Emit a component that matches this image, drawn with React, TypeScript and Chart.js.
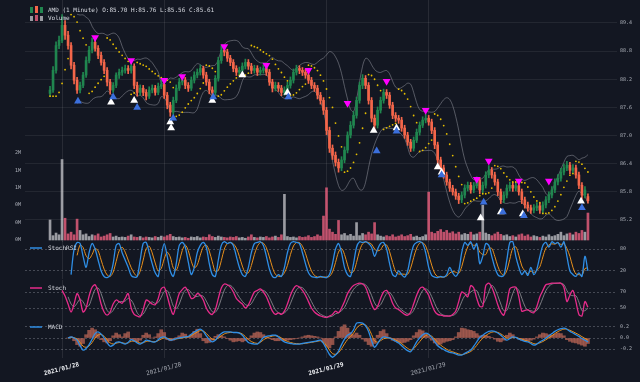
import React, { useEffect, useRef } from "react";
import { Chart, registerables } from "chart.js";

Chart.register(...registerables);

// ---------------- data ----------------
const SYMBOL = "AMD";
const INTERVAL = "1 Minute";

const OPEN = [87.90,87.97,88.39,88.92,89.03,89.35,89.14,88.92,88.50,88.18,
87.97,88.07,88.29,88.60,88.82,88.99,88.86,88.71,88.56,88.39,
88.14,87.97,88.07,88.29,88.35,88.39,88.43,88.39,88.48,88.07,
87.92,88.01,87.92,87.84,87.97,88.01,87.92,88.05,88.09,87.86,
87.65,87.50,87.75,88.01,88.14,88.18,88.07,88.01,88.18,88.29,
88.35,88.43,88.29,88.14,87.97,87.92,88.22,88.60,88.82,88.78,
88.65,88.56,88.43,88.35,88.39,88.48,88.56,88.48,88.39,88.43,
88.35,88.39,88.43,88.35,88.14,88.01,88.07,88.01,87.92,87.97,
88.07,88.18,88.35,88.43,88.39,88.35,88.29,88.18,88.07,88.01,
87.86,87.75,87.54,87.11,86.73,86.58,86.43,86.31,86.48,86.69,
87.01,87.22,87.43,87.75,88.07,88.22,88.07,87.75,87.37,87.22,
87.54,87.75,87.92,87.86,87.65,87.43,87.37,87.33,87.16,87.01,
86.86,86.73,86.90,87.07,87.22,87.33,87.37,87.29,87.11,86.80,
86.48,86.31,86.16,86.01,85.88,85.80,85.71,85.63,85.73,85.88,
85.94,85.84,85.93,86.05,85.84,85.94,86.16,86.26,86.16,86.01,
85.80,85.63,85.73,85.88,85.94,85.88,85.93,85.80,85.63,85.52,
85.46,85.41,85.46,85.50,85.41,85.52,85.63,85.73,85.84,86.01,
86.09,86.22,86.31,86.37,86.26,86.31,86.16,85.94,85.73,85.70];

const HIGH = [88.05,88.47,89.00,89.12,89.58,89.45,89.22,88.98,88.56,88.24,
88.14,88.35,88.68,88.90,89.08,89.06,88.92,88.78,88.62,88.45,
88.20,88.13,88.34,88.42,88.46,88.50,88.49,88.56,88.53,88.14,
88.08,88.07,87.98,88.04,88.08,88.07,88.12,88.18,88.14,87.92,
87.71,87.82,88.08,88.22,88.27,88.24,88.13,88.25,88.36,88.42,
88.50,88.48,88.35,88.20,88.04,88.28,88.67,88.92,88.88,88.84,
88.71,88.62,88.49,88.46,88.55,88.63,88.62,88.54,88.50,88.49,
88.46,88.51,88.49,88.41,88.20,88.14,88.13,88.07,88.04,88.14,
88.25,88.42,88.50,88.49,88.45,88.41,88.35,88.24,88.13,88.07,
87.92,87.81,87.60,87.18,86.80,86.65,86.50,86.55,86.76,87.08,
87.30,87.51,87.82,88.14,88.30,88.28,88.13,87.81,87.44,87.61,
87.82,87.99,87.98,87.92,87.71,87.49,87.43,87.39,87.22,87.07,
86.92,86.97,87.14,87.29,87.40,87.46,87.43,87.35,87.17,86.86,
86.54,86.37,86.22,86.07,85.94,85.86,85.77,85.80,85.95,86.01,
86.00,86.00,86.12,86.10,86.01,86.23,86.36,86.32,86.22,86.07,
85.86,85.80,85.95,86.01,86.00,86.00,85.99,85.86,85.69,85.58,
85.52,85.53,85.57,85.56,85.59,85.70,85.80,85.91,86.08,86.17,
86.30,86.39,86.45,86.43,86.38,86.37,86.22,86.00,85.91,85.76];

const LOW = [87.84,87.92,88.33,88.85,88.98,89.05,88.84,88.42,88.10,87.90,
87.91,88.02,88.24,88.55,88.76,88.80,88.64,88.50,88.32,88.06,
87.88,87.92,88.02,88.22,88.28,88.33,88.32,88.33,88.00,87.84,
87.86,87.85,87.76,87.79,87.91,87.86,87.87,88.00,87.79,87.57,
87.41,87.45,87.70,87.96,88.08,88.00,87.94,87.96,88.12,88.23,
88.29,88.22,88.07,87.89,87.84,87.87,88.16,88.54,88.70,88.58,
88.49,88.36,88.28,88.29,88.33,88.42,88.41,88.32,88.33,88.28,
88.29,88.33,88.28,88.07,87.93,87.95,87.94,87.85,87.86,87.91,
88.01,88.12,88.29,88.32,88.28,88.22,88.11,88.00,87.94,87.78,
87.67,87.45,87.02,86.64,86.49,86.35,86.22,86.25,86.42,86.63,
86.95,87.16,87.37,87.69,88.00,88.00,87.67,87.29,87.13,87.16,
87.48,87.69,87.79,87.58,87.36,87.30,87.26,87.09,86.94,86.79,
86.66,86.67,86.85,87.01,87.17,87.27,87.22,87.04,86.72,86.40,
86.23,86.09,85.94,85.81,85.73,85.64,85.55,85.57,85.67,85.82,
85.77,85.78,85.88,85.76,85.78,85.88,86.10,86.09,85.94,85.72,
85.55,85.57,85.67,85.82,85.81,85.82,85.73,85.55,85.45,85.39,
85.34,85.35,85.40,85.34,85.35,85.46,85.57,85.67,85.78,85.95,
86.03,86.16,86.25,86.19,86.20,86.09,85.87,85.65,85.67,85.56];

const CLOSE = [87.97,88.39,88.92,89.03,89.35,89.14,88.92,88.50,88.18,87.97,
88.07,88.29,88.60,88.82,88.99,88.86,88.71,88.56,88.39,88.14,
87.97,88.07,88.29,88.35,88.39,88.43,88.39,88.48,88.07,87.92,
88.01,87.92,87.84,87.97,88.01,87.92,88.05,88.09,87.86,87.65,
87.50,87.75,88.01,88.14,88.18,88.07,88.01,88.18,88.29,88.35,
88.43,88.29,88.14,87.97,87.92,88.22,88.60,88.82,88.78,88.65,
88.56,88.43,88.35,88.39,88.48,88.56,88.48,88.39,88.43,88.35,
88.39,88.43,88.35,88.14,88.01,88.07,88.01,87.92,87.97,88.07,
88.18,88.35,88.43,88.39,88.35,88.29,88.18,88.07,88.01,87.86,
87.75,87.54,87.11,86.73,86.58,86.43,86.31,86.48,86.69,87.01,
87.22,87.43,87.75,88.07,88.22,88.07,87.75,87.37,87.22,87.54,
87.75,87.92,87.86,87.65,87.43,87.37,87.33,87.16,87.01,86.86,
86.73,86.90,87.07,87.22,87.33,87.37,87.29,87.11,86.80,86.48,
86.31,86.16,86.01,85.88,85.80,85.71,85.63,85.73,85.88,85.94,
85.84,85.93,86.05,85.84,85.94,86.16,86.26,86.16,86.01,85.80,
85.63,85.73,85.88,85.94,85.88,85.93,85.80,85.63,85.52,85.46,
85.41,85.46,85.50,85.41,85.52,85.63,85.73,85.84,86.01,86.09,
86.22,86.31,86.37,86.26,86.31,86.16,85.94,85.73,85.84,85.61];

// volume in millions of shares
const VOLUME_M = [0.46,0.10,0.16,0.12,1.85,0.50,0.14,0.18,0.12,0.48,
0.22,0.12,0.14,0.08,0.12,0.10,0.14,0.07,0.09,0.12,
0.15,0.07,0.09,0.06,0.07,0.06,0.09,0.12,0.07,0.06,
0.08,0.05,0.07,0.06,0.05,0.08,0.06,0.09,0.07,0.10,
0.13,0.08,0.06,0.07,0.05,0.06,0.04,0.07,0.06,0.08,
0.05,0.07,0.06,0.12,0.08,0.06,0.09,0.07,0.06,0.05,
0.07,0.06,0.08,0.05,0.06,0.04,0.07,0.12,0.06,0.05,
0.07,0.06,0.08,0.05,0.07,0.09,0.06,0.12,1.05,0.08,
0.06,0.07,0.05,0.08,0.06,0.07,0.10,0.06,0.08,0.12,
0.09,0.55,1.20,0.25,0.18,0.13,0.45,0.12,0.15,0.10,
0.13,0.09,0.40,0.10,0.15,0.12,0.18,0.14,0.40,0.12,
0.09,0.07,0.10,0.08,0.12,0.07,0.09,0.12,0.08,0.10,
0.13,0.07,0.09,0.06,0.08,0.12,1.10,0.18,0.15,0.20,
0.24,0.18,0.22,0.16,0.19,0.14,0.18,0.12,0.15,0.13,
0.18,0.12,0.14,0.18,0.80,0.16,0.13,0.10,0.14,0.18,
0.13,0.10,0.12,0.08,0.10,0.07,0.12,0.14,0.09,0.12,
0.07,0.10,0.08,0.06,0.09,0.07,0.12,0.08,0.10,0.13,
0.18,0.10,0.14,0.16,0.12,0.18,0.15,0.22,0.18,0.62];

// signal markers: candle index and price level
const SELL_IDX = [15, 27, 38, 44, 58, 72, 86, 99, 112, 125, 142, 146, 156, 166];
const SELL_PRICE = [89.09, 88.60, 88.18, 88.26, 88.90, 88.50, 88.39, 87.69, 88.16, 87.54, 86.07, 86.46, 86.03, 86.03];
const BUY_IDX = [9.3, 21, 29, 41, 54.3, 79.3, 108.7, 115.3, 130.3, 144.3, 150.7, 157.7, 177];
const BUY_PRICE = [87.73, 87.82, 87.60, 87.37, 87.82, 87.82, 86.67, 87.09, 86.16, 85.58, 85.37, 85.29, 85.46];
const ALT_IDX = [20.3, 28, 40, 40.3, 54, 64, 79, 107.7, 115.3, 129, 130.3, 143.3, 150, 157.3, 176.7];
const ALT_PRICE = [87.71, 87.75, 87.29, 87.16, 87.75, 88.29, 87.92, 87.11, 87.16, 86.33, 86.22, 85.24, 85.37, 85.33, 85.60];

const STOCHRSI_K = [null,null,null,null,null,null,null,10,80,98,
95,60,30,70,95,80,50,20,5,2,
8,40,90,95,70,50,30,8,3,5,
50,95,98,70,40,15,5,60,95,60,
20,5,40,90,98,85,45,10,30,70,
90,98,85,40,10,5,50,90,100,95,
98,90,60,30,10,5,30,70,95,98,
100,90,60,25,5,2,10,5,30,70,
95,100,98,95,70,40,15,5,3,2,
5,3,2,10,40,80,95,70,30,10,
5,40,85,100,98,100,95,85,60,80,
95,98,80,40,10,5,20,10,3,20,
60,90,98,100,95,70,30,8,3,2,
5,3,10,30,15,5,20,70,98,90,
100,80,95,40,60,95,90,60,30,10,
5,8,50,98,100,60,30,10,20,8,
30,10,25,60,90,98,85,100,95,98,
85,100,60,20,10,5,15,5,60,20];

const STOCH_K = [null,null,null,null,72,65,55,45,55,68,
60,45,50,65,76,79,70,55,45,41,
45,55,60,58,56,62,68,50,42,40,
39,48,60,58,55,54,62,74,76,65,
51,42,55,68,73,76,70,62,63,68,
66,60,50,44,42,48,62,75,80,79,
76,70,62,58,55,50,54,62,70,72,
74,70,64,55,46,42,44,42,46,55,
66,74,78,76,72,66,58,50,45,42,
40,39,38,40,42,46,44,50,58,68,
74,78,80,81,80,76,66,55,48,52,
62,70,72,66,56,50,48,45,42,41,
45,55,66,74,76,72,66,55,46,42,
41,40,40,40,42,46,58,70,68,64,
78,75,62,52,52,78,81,76,66,54,
45,41,55,74,76,76,64,46,47,48,
45,44,52,64,72,79,80,81,81,81,
81,76,58,66,72,58,42,40,58,51];

const MACD_LINE = [null,null,null,null,null,null,0.00,0.02,0.00,-0.04,
-0.14,-0.22,-0.19,-0.12,-0.02,0.08,0.11,0.07,0.00,-0.09,
-0.15,-0.13,-0.08,-0.07,-0.09,-0.11,-0.08,-0.03,-0.05,-0.09,
-0.11,-0.08,-0.04,-0.05,-0.07,-0.07,-0.03,0.01,0.02,-0.01,
-0.04,-0.03,-0.01,0.00,0.01,0.02,0.03,0.07,0.11,0.14,
0.16,0.12,0.04,-0.03,-0.07,-0.04,0.03,0.08,0.11,0.11,
0.11,0.10,0.10,0.09,0.05,-0.02,-0.08,-0.10,-0.11,-0.11,
-0.06,0.01,0.03,0.04,0.05,0.05,0.02,-0.03,-0.07,-0.09,
-0.10,-0.11,-0.11,-0.11,-0.10,-0.09,-0.08,-0.07,-0.06,-0.05,
-0.04,-0.10,-0.20,-0.30,-0.35,-0.31,-0.24,-0.12,-0.02,0.05,
0.08,0.15,0.27,0.28,0.27,0.22,0.12,-0.05,-0.17,-0.10,
-0.02,0.02,0.01,0.00,-0.03,-0.06,-0.09,-0.14,-0.19,-0.23,
-0.25,-0.17,-0.07,0.00,0.06,0.09,0.07,0.01,-0.07,-0.14,
-0.18,-0.21,-0.24,-0.26,-0.27,-0.29,-0.31,-0.31,-0.28,-0.25,
-0.22,-0.15,-0.07,0.01,0.05,0.09,0.12,0.13,0.12,0.09,
0.05,0.00,-0.04,-0.01,0.02,0.01,-0.02,-0.04,-0.06,-0.07,
-0.10,-0.13,-0.11,-0.07,-0.04,0.00,0.04,0.08,0.12,0.15,
0.17,0.18,0.16,0.12,0.09,0.06,0.03,-0.01,-0.04,-0.07];

const MACD_HIST = [null,null,null,null,null,null,0,0.02,-0.05,-0.12,
-0.15,-0.10,0.06,0.14,0.18,0.15,0.08,-0.03,-0.07,-0.09,
-0.05,0.04,0.09,0.06,0.02,0.08,0.11,-0.02,-0.06,-0.07,
-0.04,0.05,0.09,0.06,0.00,0.02,0.08,0.15,0.10,-0.03,
-0.05,-0.04,0.01,0.04,0.09,0.07,0.03,0.06,0.12,0.16,
0.08,-0.05,-0.09,-0.08,-0.04,0.03,0.06,0.04,0.02,-0.01,
-0.04,-0.07,-0.06,-0.05,-0.07,-0.05,-0.02,0.04,0.09,0.11,
0.10,0.06,0.02,-0.01,-0.03,-0.05,-0.05,-0.04,-0.05,-0.04,
-0.03,-0.02,-0.01,0.00,0.02,0.04,0.05,0.04,0.03,0.02,
0.00,-0.08,-0.15,-0.18,-0.12,0.02,0.12,0.20,0.24,0.18,
0.10,0.06,0.09,0.05,-0.02,-0.06,-0.12,-0.15,-0.10,0.05,
0.12,0.15,0.08,0.01,-0.04,-0.06,-0.08,-0.09,-0.08,-0.06,
-0.03,0.04,0.10,0.15,0.13,0.08,0.03,-0.04,-0.09,-0.13,
-0.11,-0.08,-0.06,-0.05,-0.03,0.02,0.10,0.18,0.17,0.15,
0.14,0.12,0.08,0.04,0.05,0.05,0.03,0.01,-0.02,-0.06,
-0.07,-0.04,0.05,0.09,0.06,0.01,-0.02,-0.04,-0.05,-0.05,
-0.04,-0.02,0.02,0.06,0.09,0.08,0.06,0.05,0.07,0.09,
0.08,0.04,-0.03,-0.06,-0.08,-0.09,-0.11,-0.13,-0.15,-0.10];

const DATE_TICK_IDX = [4, 38, 92, 126];
const DATE_TICK_LABELS = ["2021/01/28", "2021/01/28", "2021/01/29", "2021/01/29"];
const DATE_TICK_BOLD = [true, false, true, false];
const PRICE_TICKS = [85.2, 85.8, 86.4, 87.0, 87.6, 88.2, 88.8, 89.4];
const VOLUME_TICKS = [0, 0.4, 0.8, 1.2, 1.6, 2.0];
const STOCHRSI_TICKS = [20, 80];
const STOCH_TICKS = [50, 70];
const MACD_TICKS = [-0.2, 0, 0.2];

// ---------------- style ----------------
const FONT = '"DejaVu Sans Mono", "Liberation Mono", monospace';
const BG = "#131722";
const UP = "#20864f";
const DOWN = "#f4664a";
const VOL_UP = "rgba(200,200,205,0.75)";
const VOL_DOWN = "rgba(236,96,128,0.8)";
const GRID_H = "rgba(255,255,255,0.07)";
const GRID_V = "rgba(255,255,255,0.09)";
const GRID_DASH = "rgba(200,205,215,0.28)";
const TICK = "#aeb2bb";
const LEGEND_TEXT = "#d6d9e0";
const BLUE = "#2f8ee5";
const ORANGE = "#e8901c";
const MAGENTA = "#e62b8a";

const LEFT = 25;
const RIGHT_W = 23;
const X_MIN = -8.33;
const X_MAX = 188.67;

// ---------------- indicator helpers ----------------
function smaOf(arr: (number | null)[], p: number) {
  return arr.map((_, i) => {
    if (i < p - 1) return null;
    const w = arr.slice(i - p + 1, i + 1);
    if (w.some((v) => v == null)) return null;
    return (w as number[]).reduce((a, b) => a + b, 0) / p;
  });
}
function emaOf(arr: (number | null)[], p: number) {
  const k = 2 / (p + 1);
  let prev: number | null = null;
  return arr.map((v) => {
    if (v == null) return null;
    prev = prev == null ? v : prev + k * (v - prev);
    return prev;
  });
}
function bollinger(arr: number[], p: number, mult: number) {
  const up: (number | null)[] = [];
  const lo: (number | null)[] = [];
  arr.forEach((_, i) => {
    if (i < p - 1) { up.push(null); lo.push(null); return; }
    const w = arr.slice(i - p + 1, i + 1);
    const m = w.reduce((a, b) => a + b, 0) / p;
    const sd = Math.sqrt(w.reduce((a, b) => a + (b - m) * (b - m), 0) / p);
    up.push(m + mult * sd);
    lo.push(m - mult * sd);
  });
  return { up, lo };
}
function parabolicSar(h: number[], l: number[], step: number, maxAf: number) {
  const out: number[] = [l[0]];
  let up = true, af = step, ep = h[0], sar = l[0];
  for (let i = 1; i < h.length; i++) {
    sar = sar + af * (ep - sar);
    if (up) {
      sar = Math.min(sar, l[i - 1], l[Math.max(0, i - 2)]);
      if (l[i] < sar) { up = false; sar = ep; ep = l[i]; af = step; }
      else if (h[i] > ep) { ep = h[i]; af = Math.min(af + step, maxAf); }
    } else {
      sar = Math.max(sar, h[i - 1], h[Math.max(0, i - 2)]);
      if (h[i] > sar) { up = true; sar = ep; ep = h[i]; af = step; }
      else if (l[i] < ep) { ep = l[i]; af = Math.min(af + step, maxAf); }
    }
    out.push(sar);
  }
  return out;
}
const pts = (arr: (number | null)[]) =>
  arr.map((v, i) => (v == null ? null : { x: i, y: v })).filter(Boolean);

// ---------------- chart config builders ----------------
function xAxis(withLabels: boolean) {
  return {
    type: "linear",
    min: X_MIN,
    max: X_MAX,
    offset: false,
    afterBuildTicks: (s: any) => { s.ticks = DATE_TICK_IDX.map((v) => ({ value: v })); },
    afterFit: (s: any) => { s.height = withLabels ? 24 : 0; s.paddingLeft = 0; s.paddingRight = 0; },
    grid: { display: true, color: GRID_V, lineWidth: 1, drawTicks: false, offset: false },
    border: { display: false },
    ticks: withLabels
      ? {
          autoSkip: false,
          minRotation: 15,
          maxRotation: 15,
          padding: 3,
          labelOffset: 17,
          callback: (v: number) => {
            const k = DATE_TICK_IDX.indexOf(v);
            return k >= 0 ? DATE_TICK_LABELS[k] : "";
          },
          color: (c: any) => (DATE_TICK_BOLD[c.index] ? "#eceef2" : "#a5a9b2"),
          font: (c: any) => ({ family: FONT, size: 6, weight: DATE_TICK_BOLD[c.index] ? "bold" : "normal" }),
        }
      : { display: false },
  };
}
function rightAxis(min: number, max: number, ticks: number[], fmt: (v: number) => string, dashed: boolean) {
  return {
    type: "linear",
    position: "right",
    min,
    max,
    afterBuildTicks: (s: any) => { s.ticks = ticks.map((v) => ({ value: v })); },
    afterFit: (s: any) => { s.width = RIGHT_W; s.paddingTop = 0; s.paddingBottom = 0; },
    grid: { color: dashed ? GRID_DASH : GRID_H, lineWidth: 1, drawTicks: false },
    border: { display: false, dash: dashed ? [2, 2] : [] },
    ticks: { color: TICK, font: { family: FONT, size: 5 }, padding: 3, callback: (v: number) => fmt(v) },
  };
}
function baseOptions(padLeft: number, padBottom: number) {
  return {
    responsive: false,
    animation: false,
    events: [],
    layout: { padding: { left: padLeft, right: 0, top: 0, bottom: padBottom }, autoPadding: false },
    plugins: { legend: { display: false }, tooltip: { enabled: false }, title: { display: false } },
  };
}
function overlayText(id: string, draw: (ctx: CanvasRenderingContext2D) => void) {
  return {
    id,
    afterDraw(chart: any) {
      const ctx = chart.ctx;
      ctx.save();
      draw(ctx);
      ctx.restore();
    },
  };
}
function lineLegend(color: string, text: string, y: number) {
  return (ctx: CanvasRenderingContext2D) => {
    ctx.strokeStyle = color;
    ctx.lineWidth = 1.5;
    ctx.beginPath();
    ctx.moveTo(30, y);
    ctx.lineTo(42, y);
    ctx.stroke();
    ctx.fillStyle = LEGEND_TEXT;
    ctx.font = `6px ${FONT}`;
    ctx.textBaseline = "middle";
    ctx.fillText(text, 48, y);
  };
}

function priceConfig() {
  const n = CLOSE.length;
  const candleColor = CLOSE.map((c, i) => (c >= OPEN[i] ? UP : DOWN));
  const volColor = CLOSE.map((c, i) => (c >= OPEN[i] ? VOL_UP : VOL_DOWN));
  const bb = bollinger(CLOSE, 10, 2);
  const sar = parabolicSar(HIGH, LOW, 0.04, 0.3);
  const legendLine = `${SYMBOL} (${INTERVAL}) O:${OPEN[n - 1].toFixed(2)} H:${HIGH[n - 1].toFixed(2)} L:${LOW[n - 1].toFixed(2)} C:${CLOSE[n - 1].toFixed(2)}`;
  return {
    type: "bar",
    data: {
      datasets: [
        { type: "bar", label: "Volume", yAxisID: "yv", data: VOLUME_M.map((v, i) => ({ x: i, y: v })), backgroundColor: volColor, barThickness: 2, grouped: false, order: 20 },
        { type: "line", label: "Upper band", yAxisID: "y", data: pts(bb.up), borderColor: "rgba(150,153,162,0.65)", borderWidth: 0.8, pointRadius: 0, tension: 0.35, order: 15 },
        { type: "line", label: "Lower band", yAxisID: "y", data: pts(bb.lo), borderColor: "rgba(150,153,162,0.65)", borderWidth: 0.8, pointRadius: 0, tension: 0.35, order: 15 },
        { type: "bar", label: "Wick", yAxisID: "y", data: LOW.map((l, i) => ({ x: i, y: [l, HIGH[i]] })), backgroundColor: candleColor, barThickness: 1, grouped: false, order: 12 },
        { type: "bar", label: SYMBOL, yAxisID: "y", data: OPEN.map((o, i) => ({ x: i, y: [o, CLOSE[i]] })), backgroundColor: candleColor, barThickness: 2, minBarLength: 1, grouped: false, order: 11 },
        { type: "scatter", label: "SAR", yAxisID: "y", data: pts(sar), pointRadius: 0.9, pointBackgroundColor: "#e6be00", pointBorderWidth: 0, order: 10 },
        { type: "scatter", label: "Alt", yAxisID: "y", data: ALT_IDX.map((x, i) => ({ x, y: ALT_PRICE[i] })), pointStyle: "triangle", pointRadius: 4.5, pointBackgroundColor: "#ffffff", pointBorderWidth: 0, order: 3 },
        { type: "scatter", label: "Buy", yAxisID: "y", data: BUY_IDX.map((x, i) => ({ x, y: BUY_PRICE[i] })), pointStyle: "triangle", pointRadius: 4.5, pointBackgroundColor: "#3b6fdc", pointBorderWidth: 0, order: 2 },
        { type: "scatter", label: "Sell", yAxisID: "y", data: SELL_IDX.map((x, i) => ({ x, y: SELL_PRICE[i] })), pointStyle: "triangle", pointRotation: 180, pointRadius: 4.5, pointBackgroundColor: "#ff00ff", pointBorderWidth: 0, order: 1 },
      ],
    },
    options: {
      ...baseOptions(0, 8),
      scales: {
        x: xAxis(false),
        y: rightAxis(84.731, 89.89, PRICE_TICKS, (v) => v.toFixed(1), false),
        yv: {
          type: "linear",
          position: "left",
          min: -0.046,
          max: 5.517,
          afterBuildTicks: (s: any) => { s.ticks = VOLUME_TICKS.map((v) => ({ value: v })); },
          afterFit: (s: any) => { s.width = LEFT; s.paddingTop = 0; s.paddingBottom = 0; },
          grid: { display: false, drawTicks: false },
          border: { display: false },
          ticks: { color: TICK, font: { family: FONT, size: 5 }, padding: 4, callback: (v: number) => `${Math.floor(v + 1e-9)}M` },
        },
      },
    },
    plugins: [
      overlayText("priceLegend", (ctx) => {
        ctx.fillStyle = UP; ctx.fillRect(30, 7, 3, 6);
        ctx.fillStyle = DOWN; ctx.fillRect(35, 6, 3, 7);
        ctx.fillStyle = UP; ctx.fillRect(40, 7, 3, 6);
        ctx.fillStyle = VOL_UP; ctx.fillRect(30, 16, 3, 5);
        ctx.fillStyle = VOL_DOWN; ctx.fillRect(35, 15, 3, 6);
        ctx.fillStyle = VOL_UP; ctx.fillRect(40, 16, 3, 5);
        ctx.fillStyle = LEGEND_TEXT;
        ctx.font = `6px ${FONT}`;
        ctx.textBaseline = "middle";
        ctx.fillText(legendLine, 48, 10);
        ctx.fillText("Volume", 48, 18.5);
      }),
    ],
  };
}

function stochRsiConfig() {
  return {
    type: "line",
    data: {
      datasets: [
        { label: "StochRSI", data: pts(STOCHRSI_K), borderColor: BLUE, borderWidth: 1.3, pointRadius: 0, tension: 0.3, order: 1 },
        { label: "Signal", data: pts(smaOf(STOCHRSI_K, 3)), borderColor: ORANGE, borderWidth: 1, pointRadius: 0, tension: 0.3, order: 2 },
      ],
    },
    options: {
      ...baseOptions(LEFT, 0),
      scales: {
        x: xAxis(false),
        y: rightAxis(-2, 102, STOCHRSI_TICKS, (v) => String(v), true),
      },
    },
    plugins: [overlayText("srsiLegend", lineLegend(BLUE, "StochRSI", 7))],
  };
}

function stochConfig() {
  return {
    type: "line",
    data: {
      datasets: [
        { label: "Stoch", data: pts(STOCH_K), borderColor: MAGENTA, borderWidth: 1.3, pointRadius: 0, tension: 0.3, order: 1 },
        { label: "Signal", data: pts(smaOf(STOCH_K, 3)), borderColor: "rgba(150,150,155,0.8)", borderWidth: 1, pointRadius: 0, tension: 0.3, order: 2 },
      ],
    },
    options: {
      ...baseOptions(LEFT, 0),
      scales: {
        x: xAxis(false),
        y: rightAxis(37.5, 85, STOCH_TICKS, (v) => String(v), true),
      },
    },
    plugins: [overlayText("stochLegend", lineLegend(MAGENTA, "Stoch", 8))],
  };
}

function macdConfig() {
  return {
    type: "bar",
    data: {
      datasets: [
        { type: "bar", label: "Histogram", data: pts(MACD_HIST), backgroundColor: "rgba(176,96,82,0.8)", barThickness: 3, grouped: false, order: 5 },
        { type: "line", label: "Signal", data: pts(emaOf(MACD_LINE, 3)), borderColor: ORANGE, borderWidth: 1, pointRadius: 0, tension: 0.3, order: 2 },
        { type: "line", label: "MACD", data: pts(MACD_LINE), borderColor: BLUE, borderWidth: 1.3, pointRadius: 0, tension: 0.3, order: 1 },
      ],
    },
    options: {
      ...baseOptions(LEFT, 0),
      scales: {
        x: xAxis(true),
        y: rightAxis(-0.3636, 0.3636, MACD_TICKS, (v) => (Math.abs(v) < 1e-9 ? "0.0" : v.toFixed(1)), true),
      },
    },
    plugins: [overlayText("macdLegend", lineLegend(BLUE, "MACD", 9))],
  };
}

function Panel({ top, height, make }: { top: number; height: number; make: () => any }) {
  const ref = useRef<HTMLCanvasElement | null>(null);
  useEffect(() => {
    if (!ref.current) return;
    const chart = new Chart(ref.current, make());
    return () => chart.destroy();
  }, []);
  return (
    <canvas
      ref={ref}
      width={640}
      height={height}
      style={{ position: "absolute", left: 0, top, width: 640, height, display: "block" }}
    />
  );
}

export default function App() {
  useEffect(() => {
    document.body.style.margin = "0";
    document.body.style.background = BG;
  }, []);
  return (
    <div style={{ position: "fixed", left: 0, top: 0, width: 640, height: 382, background: BG, overflow: "hidden" }}>
      <Panel top={0} height={250} make={priceConfig} />
      <Panel top={241} height={38} make={stochRsiConfig} />
      <Panel top={280} height={38} make={stochConfig} />
      <Panel top={318} height={64} make={macdConfig} />
    </div>
  );
}
